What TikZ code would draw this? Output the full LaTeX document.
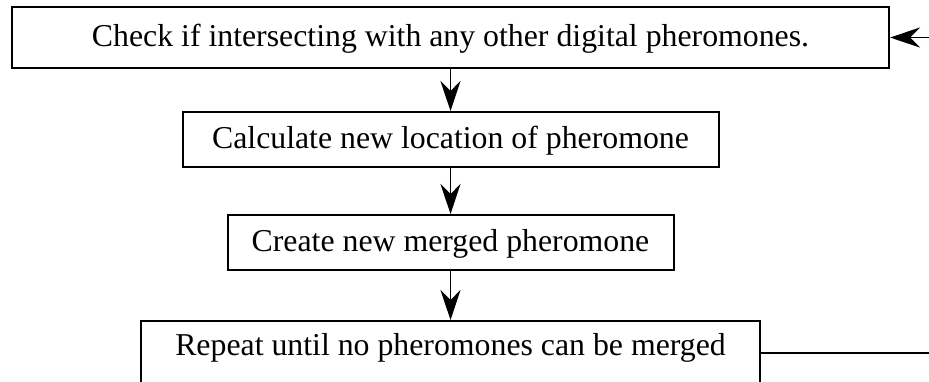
\documentclass[tikz,border=0pt]{standalone}
\usepackage{fontspec}
\setmainfont{Liberation Serif}
\usetikzlibrary{arrows.meta,positioning}
\tikzstyle{stepbox} = [rectangle, draw=black, line width=1pt, minimum height=27.5pt, text centered, text height=13pt, text depth=3.7pt, font=\fontsize{15.9}{19}\selectfont]

\begin{document}
\begin{tikzpicture}[->,>={Stealth[length=15pt,width=10pt,inset=5pt]},line width=0.8pt]

        \useasboundingbox (0,0) rectangle (464.5pt,-190.5pt);
        \coordinate (rim) at (464.5pt,0);

        \node[stepbox, minimum width=438.5pt, minimum height=30.5pt] (Check) at (225.25pt,-18.75pt) {Check if intersecting with any other digital pheromones.};
        \node[stepbox, minimum width=268pt] (Calculate) [below of=Check, node distance=51pt] {Calculate new location of pheromone};
        \node[stepbox, minimum width=223pt] (Create) [below of=Calculate, node distance=51.5pt] {Create new merged pheromone};
        \node[stepbox, minimum width=309.5pt, minimum height=32pt, text depth=10.4pt] (Repeat) [below of=Create, node distance=55.25pt] {Repeat until no pheromones can be merged};

        \path
            (Check) edge (Calculate)
            (Calculate) edge (Create)
            (Create) edge (Repeat);

        % loop back along the right margin
        \draw (Check.east -| rim) -- (Check.east);
        \draw[-] (Repeat.east) -- (Repeat.east -| rim);

\end{tikzpicture}
\end{document}
